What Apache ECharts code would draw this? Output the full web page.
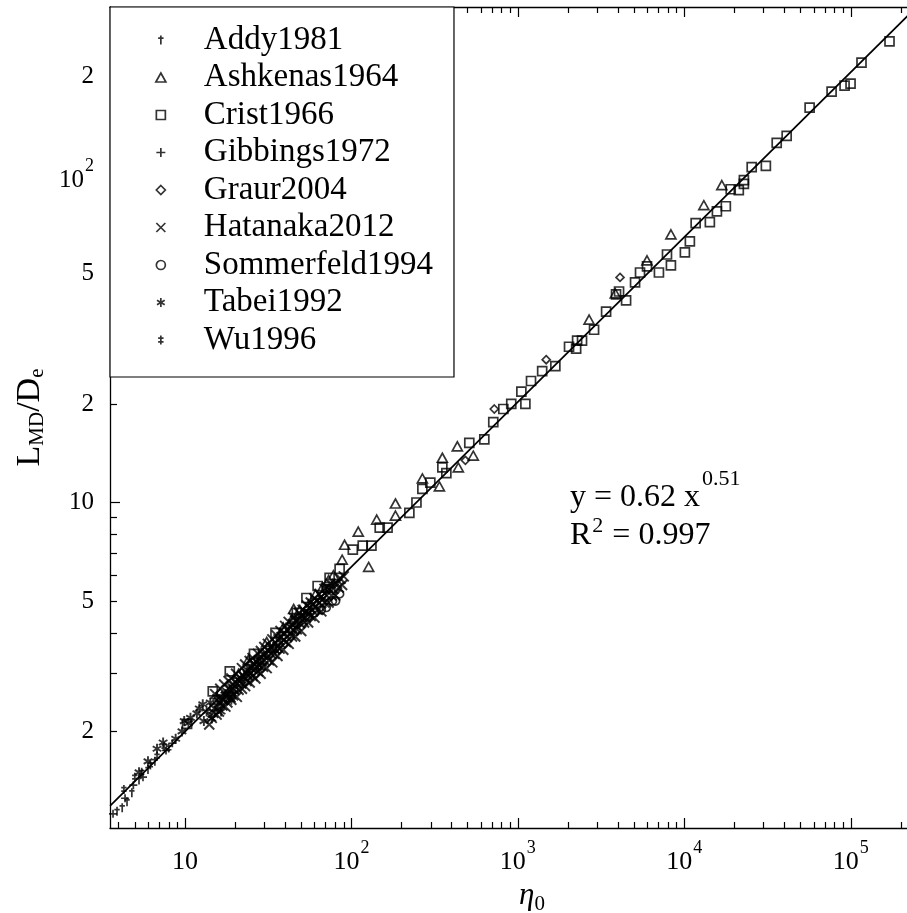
<!DOCTYPE html>
<html>
<head>
<meta charset="utf-8">
<title>L_MD/D_e vs eta_0</title>
<script src="https://cdn.jsdelivr.net/npm/echarts@6/dist/echarts.min.js"></script>
<style>
    html, body { margin: 0; padding: 0; background: #fff; }
    #chart { width: 907px; height: 913px; }
</style>
</head>
<body>
<div id="chart"></div>
<script>
// 数据
const addy1981 = [[3.91, 1.14], [4.2, 1.17], [4.49, 1.22], [4.8, 1.3], [5.3, 1.42], [6.0, 1.53], [6.6, 1.62]];
const ashkenas1964 = [
    [18.5, 2.65], [21, 3.0], [24, 3.3], [27, 3.2], [31, 3.75], [34, 3.6], [39, 4.15], [44, 4.4], [45, 4.73],
    [49, 4.7], [55, 4.85], [61, 5.25], [67, 5.5], [73, 5.8], [78, 6.0],
    [88, 6.69], [91, 7.43], [110, 8.15], [127, 6.36], [142, 8.87], [184, 9.93], [184, 9.12], [267, 11.85],
    [338, 11.2], [352, 13.7], [433, 14.85], [439, 12.8], [540, 13.9],
    [2680, 36.2], [3850, 43.5], [5970, 54.9], [8310, 65.9], [13100, 80.9], [16800, 93.2]
];
const crist1966 = [
    [10.3, 2.11], [14.7, 2.65], [18.6, 3.05], [26, 3.45], [35, 4.0], [47, 4.6], [53.7, 5.11], [62.7, 5.56],
    [74, 5.89], [85, 6.27], [102, 7.18], [117, 7.38], [132, 7.38], [148, 8.38], [165, 8.38], [223, 9.3],
    [246, 10.0], [267, 11.0], [298, 11.5], [352, 12.8], [372, 12.3], [511, 15.2], [629, 15.6], [712, 17.6],
    [818, 19.3], [913, 20.0], [1110, 20.0], [1050, 21.8], [1200, 23.5], [1400, 25.2], [1680, 26.1],
    [2030, 29.9], [2240, 29.5], [2270, 31.2], [2430, 31.2], [2870, 33.7], [3390, 38.3], [3890, 43.2],
    [4055, 44.1], [4470, 41.4], [5060, 47.0], [5420, 50.4], [5970, 52.6], [7040, 50.4], [7870, 57.2],
    [8310, 53.0], [10080, 58.1], [10800, 62.7], [11700, 71.3], [14240, 71.8], [15700, 77.5], [17760, 80.3],
    [19000, 90.5], [21250, 90.0], [22800, 94.0], [22800, 96.5], [25400, 105.8], [30900, 106.6],
    [35900, 125.4], [41200, 131.7], [56600, 160.6], [76700, 179.7], [91800, 187.5], [99700, 190.2],
    [116000, 220.6], [170900, 255.9]
];
const gibbings1972 = [[3.7, 1.12], [4.37, 1.25], [4.9, 1.37], [5.6, 1.45], [7.7, 1.75], [8.4, 1.84]];
const graur2004 = [[484, 13.45], [722, 19.3], [1480, 27.3], [4110, 48.7]];
const hatanaka2012 = [
    [15, 2.35], [15.2, 2.6], [16, 2.45], [16.3, 2.7], [17, 2.5], [17.2, 2.78], [18, 2.62], [18.3, 2.85],
    [18.6, 2.55], [19, 2.9], [19.4, 2.7], [20, 2.75], [20.3, 3.0], [20.8, 2.88], [21.5, 2.9], [22, 3.12],
    [22.5, 2.95], [23, 3.2], [23.6, 3.0], [24, 3.05], [24.5, 3.28], [25, 3.12], [25.5, 3.35], [26, 3.22],
    [27, 3.25], [27.5, 3.45], [28, 3.3], [28.6, 3.52], [29.5, 3.42], [30, 3.62], [30.5, 3.48], [31.5, 3.7],
    [32, 3.52], [33, 3.6], [33.5, 3.82], [35, 3.72], [35.5, 3.93], [36.5, 3.82], [37.5, 4.05], [38, 3.88],
    [39.5, 4.0], [40, 4.2], [41, 4.08], [42, 4.32], [43, 4.15], [44.5, 4.25], [45, 4.45], [46, 4.35],
    [48, 4.4], [48.5, 4.6], [50, 4.5], [51, 4.7], [53, 4.62], [54, 4.85], [56, 4.78], [57, 4.95],
    [59, 4.9], [60, 5.1], [62, 5.02], [64, 5.25], [66, 5.15], [69, 5.45], [72, 5.5], [75, 5.65],
    [14, 2.1], [14.5, 2.2], [15.5, 2.25], [16, 2.3], [16.8, 2.4], [17.5, 2.38], [18, 2.45], [19, 2.5],
    [19.5, 2.58], [20.5, 2.55], [21, 2.68], [22, 2.7], [23, 2.75], [23.5, 2.85], [24.5, 2.82], [25.5, 2.95],
    [26.5, 2.9], [27.5, 3.05], [28.5, 3.0], [29.5, 3.15], [31, 3.12], [32, 3.3], [33.5, 3.25], [34.5, 3.45],
    [36, 3.4], [37, 3.58], [39, 3.55], [40.5, 3.75], [42, 3.7], [44, 3.9], [46, 3.9], [47, 4.1], [50, 4.05],
    [52, 4.3], [55, 4.3], [57, 4.5], [60, 4.45], [63, 4.7], [66, 4.65], [69, 4.95], [73, 4.95], [76, 5.2],
    [80, 5.2], [84, 5.5], [88, 5.6],
    [14.8, 2.28], [15.8, 2.38], [16.6, 2.52], [17.6, 2.55], [18.8, 2.68], [19.8, 2.68], [20.6, 2.8],
    [21.8, 2.8], [22.8, 2.92], [24, 2.95], [25, 3.02], [26, 3.08], [27, 3.15], [28, 3.18], [29, 3.28],
    [30, 3.3], [31.5, 3.38], [33, 3.45], [34.5, 3.58], [36, 3.62], [37.5, 3.72], [39, 3.8], [41, 3.88],
    [43, 3.98], [45, 4.08], [47, 4.2], [49, 4.28], [51, 4.38], [53, 4.45], [55, 4.6], [58, 4.7], [61, 4.8],
    [64, 4.95], [67, 5.05], [71, 5.2], [74, 5.4], [78, 5.45], [82, 5.65], [86, 5.85], [90, 5.95]
];
const sommerfeld1994 = [[55, 4.5], [60, 4.6], [66, 4.7], [70.7, 4.78], [70.7, 5.45], [77, 5.0], [80.4, 5.0], [85, 5.26]];
const tabei1992 = [
    [5.3, 1.5], [6.0, 1.62], [6.8, 1.77], [7.4, 1.85], [8.8, 1.9], [9.6, 2.0], [10.5, 2.12], [11.8, 2.27],
    [12.8, 2.42], [13.5, 2.3], [14.2, 2.45], [14.5, 2.19], [15.5, 2.55], [16.5, 2.3], [17.5, 2.6], [19, 2.5],
    [9.9, 2.15], [10.8, 2.2], [12.2, 2.35], [13, 2.15]
];
const wu1996 = [[4.3, 1.33], [5.0, 1.45], [5.5, 1.5], [6.2, 1.58], [6.8, 1.68], [7.5, 1.8], [8.0, 1.78]];

// 拟合直线 y = 0.62 x^0.51（从图上读取的两端点）
const fitLine = [[3.55, 1.185], [316000, 368]];

// 坐标范围、刻度与标签
const xRange = [3.548, 316228];
const yRange = [1.014, 326];
const xTickValues = [10, 100, 1000, 10000, 100000];
const xTickLabels = ['10', '10^2', '10^3', '10^4', '10^5'];
const xMinorTicks = [4, 5, 6, 7, 8, 9, 20, 30, 40, 50, 60, 70, 80, 90, 200, 300, 400, 500, 600, 700, 800, 900,
    2000, 3000, 4000, 5000, 6000, 7000, 8000, 9000, 20000, 30000, 40000, 50000, 60000, 70000, 80000, 90000, 200000];
const yTickValues = [2, 5, 10, 20, 50, 100, 200];
const yTickLabels = ['2', '5', '10', '2', '5', '10^2', '2'];
const yMajorTicks = [10];
const yMinorTicks = [2, 3, 4, 5, 6, 7, 8, 9, 20];

const FONT = 'Liberation Serif';

// 符号
const SYM = {
    dagger: 'path://M5,0L5,10M2,3L8,3',
    triangle: 'path://M5,0L10,9L0,9Z',
    square: 'path://M0,0L10,0L10,10L0,10Z',
    plus: 'path://M5,0L5,10M0,5L10,5',
    diamond: 'path://M5,0L10,5L5,10L0,5Z',
    cross: 'path://M0,0L10,10M0,10L10,0',
    star: 'path://M5,0L5,10M0.7,2.5L9.3,7.5M0.7,7.5L9.3,2.5',
    ddagger: 'path://M5,0L5,10M2,3L8,3M2,7L8,7'
};

function nearestLabel(value, values, labels) {
    let best = 0;
    for (let i = 1; i < values.length; i++) {
        if (Math.abs(Math.log10(values[i] / value)) < Math.abs(Math.log10(values[best] / value))) best = i;
    }
    const parts = labels[best].split('^');
    return parts.length > 1 ? '{b|' + parts[0] + '}{s|' + parts[1] + '}' : '{p|' + parts[0] + '}';
}

function scatter(name, data, symbol, size, lw) {
    return {
        name: name,
        type: 'scatter',
        data: data,
        symbol: symbol,
        symbolSize: size,
        symbolKeepAspect: true,
        silent: true,
        z: 3,
        itemStyle: { color: 'transparent', borderColor: '#000', borderWidth: lw || 1.7 },
        emphasis: { disabled: true }
    };
}

function logAxis(pos, ticks, len, showLine, extra) {
    const range = (pos === 'bottom' || pos === 'top') ? xRange : yRange;
    return Object.assign({
        type: 'log',
        logBase: 10,
        position: pos,
        min: range[0],
        max: range[1],
        axisLine: { show: showLine, onZero: false, lineStyle: { color: '#000', width: 1.3 } },
        axisTick: { show: true, inside: true, length: len, customValues: ticks, lineStyle: { color: '#000', width: 1.2 } },
        axisLabel: { show: false },
        splitLine: { show: false },
        minorTick: { show: false }
    }, extra || {});
}

let chart = echarts.init(document.getElementById('chart'));

let option = {
    animation: false,
    backgroundColor: '#fff',
    textStyle: { fontFamily: FONT, color: '#000' },
    title: [
        {
            left: 565, top: 463,
            text: '{n|y = 0.62 x}{s|0.51}',
            textStyle: {
                fontWeight: 'normal',
                rich: {
                    n: { fontFamily: FONT, fontSize: 32, fontWeight: 'normal', color: '#000', verticalAlign: 'bottom' },
                    s: { fontFamily: FONT, fontSize: 22, fontWeight: 'normal', color: '#000', verticalAlign: 'top', padding: [0, 0, 24, 2] }
                }
            }
        },
        {
            left: 565, top: 510,
            text: '{n|R}{s|2}{n| = 0.997}',
            textStyle: {
                fontWeight: 'normal',
                rich: {
                    n: { fontFamily: FONT, fontSize: 32, fontWeight: 'normal', color: '#000', verticalAlign: 'bottom' },
                    s: { fontFamily: FONT, fontSize: 22, fontWeight: 'normal', color: '#000', verticalAlign: 'top', padding: [0, 1, 15, 1] }
                }
            }
        }
    ],
    legend: {
        orient: 'vertical',
        left: 110,
        top: 7,
        padding: [16, 21, 20, 45],
        itemGap: 3.5,
        itemWidth: 76,
        itemHeight: 9,
        selectedMode: false,
        borderColor: '#000',
        borderWidth: 1.2,
        backgroundColor: '#fff',
        textStyle: { fontFamily: FONT, fontSize: 33, lineHeight: 34, color: '#000' },
        itemStyle: { color: 'transparent', borderColor: '#000', borderWidth: 1.7 },
        data: ['Addy1981', 'Ashkenas1964', 'Crist1966', 'Gibbings1972', 'Graur2004',
            'Hatanaka2012', 'Sommerfeld1994', 'Tabei1992', 'Wu1996']
    },
    grid: { left: 110, top: 7, width: 824, height: 821, containLabel: false, outerBoundsMode: 'none' },
    xAxis: [
        logAxis('bottom', xTickValues, 10, true, {
            name: '{e|η}{sub|0}',
            nameLocation: 'middle',
            nameGap: 48,
            nameTextStyle: {
                padding: [0, 0, 0, 20],
                rich: {
                    e: { fontFamily: FONT, fontSize: 31, fontStyle: 'italic', color: '#000', verticalAlign: 'top' },
                    sub: { fontFamily: FONT, fontSize: 21, color: '#000', verticalAlign: 'bottom', padding: [14, 0, 0, 0] }
                }
            },
            axisLabel: {
                show: true,
                customValues: xTickValues,
                margin: 11,
                formatter: function (v) { return nearestLabel(v, xTickValues, xTickLabels); },
                rich: {
                    p: { fontFamily: FONT, fontSize: 26, color: '#000', padding: [10, 0, 0, 0] },
                    b: { fontFamily: FONT, fontSize: 26, color: '#000', verticalAlign: 'bottom' },
                    s: { fontFamily: FONT, fontSize: 18, color: '#000', verticalAlign: 'top', padding: [0, 0, 18, 1] }
                }
            }
        }),
        logAxis('bottom', xMinorTicks, 6, false),
        logAxis('top', xTickValues, 10, true),
        logAxis('top', xMinorTicks, 6, false)
    ],
    yAxis: [
        logAxis('left', yMajorTicks, 10, true, {
            name: 'L{sub|MD}/D{sub|e}',
            nameLocation: 'middle',
            nameGap: 58,
            nameRotate: 90,
            nameTextStyle: {
                fontFamily: FONT, fontSize: 34, color: '#000', verticalAlign: 'top',
                rich: {
                    sub: { fontFamily: FONT, fontSize: 21, color: '#000', verticalAlign: 'bottom', padding: [16, 0, 0, 0] }
                }
            },
            axisLabel: {
                show: true,
                customValues: yTickValues,
                margin: 16,
                formatter: function (v) { return nearestLabel(v, yTickValues, yTickLabels); },
                rich: {
                    p: { fontFamily: FONT, fontSize: 25, color: '#000' },
                    b: { fontFamily: FONT, fontSize: 25, color: '#000', verticalAlign: 'bottom' },
                    s: { fontFamily: FONT, fontSize: 18, color: '#000', verticalAlign: 'top', padding: [0, 0, 18, 1] }
                }
            }
        }),
        logAxis('left', yMinorTicks, 7, false)
    ],
    series: [
        {
            name: 'fit',
            type: 'line',
            data: fitLine,
            symbol: 'none',
            silent: true,
            z: 2,
            lineStyle: { color: '#000', width: 1.7 }
        },
        scatter('Addy1981', addy1981, SYM.dagger, 9),
        scatter('Ashkenas1964', ashkenas1964, SYM.triangle, 10),
        scatter('Crist1966', crist1966, SYM.square, 9),
        scatter('Gibbings1972', gibbings1972, SYM.plus, 8),
        scatter('Graur2004', graur2004, SYM.diamond, 8),
        scatter('Hatanaka2012', hatanaka2012, SYM.cross, 10, 2),
        scatter('Sommerfeld1994', sommerfeld1994, 'circle', 8),
        scatter('Tabei1992', tabei1992, SYM.star, 10, 1.9),
        scatter('Wu1996', wu1996, SYM.ddagger, 9)
    ]
};

chart.setOption(option);
</script>
</body>
</html>
